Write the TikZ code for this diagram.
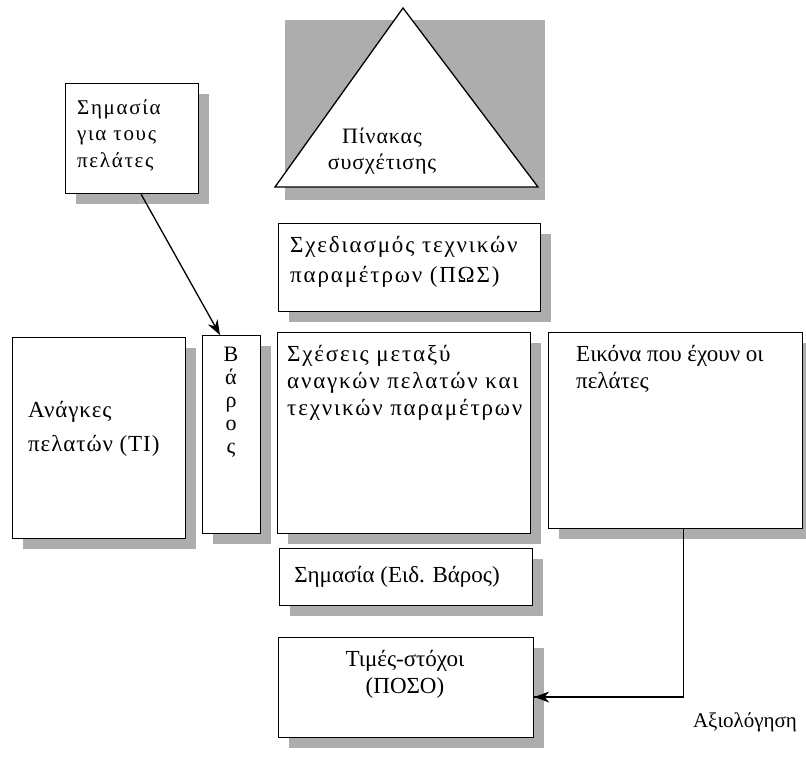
\documentclass[tikz,border=0pt]{standalone}
\usepackage{fontspec}
\setmainfont{Liberation Serif}
\newfontfamily\widefont[LetterSpace=8]{Liberation Serif}
\newfontfamily\medfont[LetterSpace=4]{Liberation Serif}
\usetikzlibrary{arrows.meta,shadows,calc}
\begin{document}
\begin{tikzpicture}[x=1pt,y=-1pt,
  box/.style={draw=black, line width=1.3pt, fill=white, inner sep=0pt, anchor=north west,
    drop shadow={shadow xshift=10pt, shadow yshift=-10pt, fill=black!32, opacity=1}},
  txt/.style={inner sep=0pt, font=\fontsize{23}{27}\selectfont, align=left, anchor=north west},
  ctxt/.style={inner sep=0pt, font=\fontsize{23}{27}\selectfont, align=center},
  conn/.style={line width=1.3pt, -{Stealth[length=15pt,width=11pt]}},
  link/.style={line width=1.3pt}]
\useasboundingbox (0,0) rectangle (806,772);
% triangle with gray background
\fill[black!32] (285,20) rectangle (545,200);
\draw[line width=1.3pt, fill=white] (403,8) -- (538,187) -- (275,187) -- cycle;
\node[ctxt, font=\medfont\fontsize{22}{26}\selectfont] (pin) at (382,151) {Πίνακας\\συσχέτισης};
% boxes
\node[box, minimum width=133pt, minimum height=110pt] (sig) at (65,83) {};
\node[box, minimum width=262pt, minimum height=88pt] (sxed) at (278,223) {};
\node[box, minimum width=173pt, minimum height=201pt] (anag) at (12,337) {};
\node[box, minimum width=58pt, minimum height=198pt] (varos) at (202,335) {};
\node[box, minimum width=253pt, minimum height=201pt] (sxes) at (277,332) {};
\node[box, minimum width=254pt, minimum height=196pt] (eik) at (548,332) {};
\node[box, minimum width=253pt, minimum height=57pt] (simasia) at (279,548) {};
\node[box, minimum width=255pt, minimum height=100pt] (times) at (278,637) {};
% texts
\node[txt, font=\widefont\fontsize{21}{26.5}\selectfont] (tsig) at (77,99) {Σημασία\\για τους\\πελάτες};
\node[txt, font=\widefont\fontsize{23}{30}\selectfont] (tsxed) at (290,236) {Σχεδιασμός τεχνικών\\παραμέτρων (ΠΩΣ)};
\node[txt, font=\medfont\fontsize{23}{34}\selectfont] (tanag) at (28,401) {Ανάγκες\\πελατών (TI)};
\node[ctxt, font=\fontsize{22}{23}\selectfont] (tvaros) at (231,402) {Β\\ά\\ρ\\ο\\ς};
\node[txt, font=\widefont\fontsize{23}{27}\selectfont] (tsxes) at (287,345) {Σχέσεις μεταξύ\\αναγκών πελατών και\\τεχνικών παραμέτρων};
\node[txt] (teik) at (576,345) {Εικόνα που έχουν οι\\πελάτες};
\node[ctxt] (tsim) at (397,577) {Σημασία (Ειδ. Βάρος)};
\node[ctxt] (ttim) at (405,674) {Τιμές-στόχοι\\(ΠΟΣΟ)};
\node[ctxt, font=\fontsize{21}{24}\selectfont] (axio) at (745,722) {Αξιολόγηση};
% connectors
\coordinate (c1) at (683,697);
\draw[conn] (sig.south) ++(9,0) -- ($(varos.north west)+(18,0)$);
\draw[link] (eik.south) ++(8,0) |- (c1) -- (c1 -| times.east);
\draw[conn] (c1) -- (c1 -| times.east);
\end{tikzpicture}
\end{document}
